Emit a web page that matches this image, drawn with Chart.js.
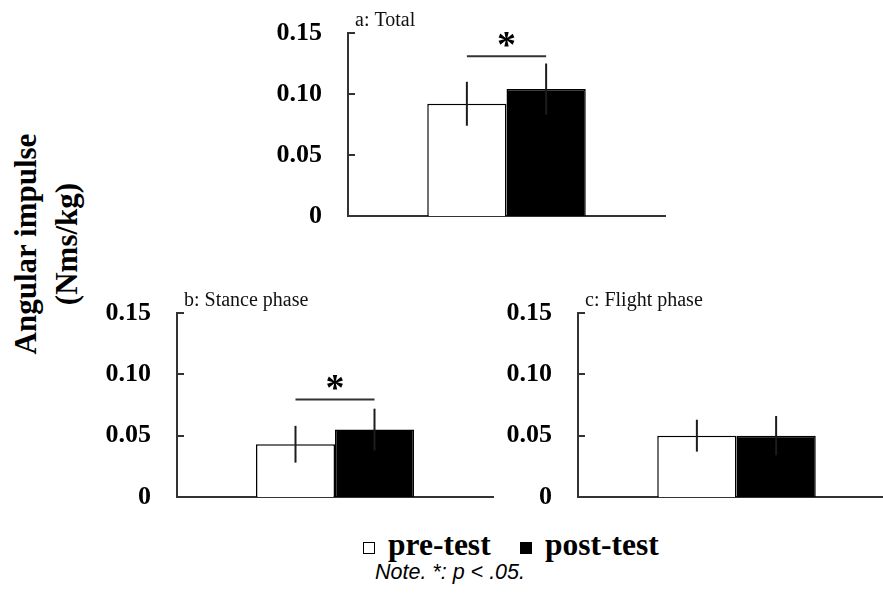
<!DOCTYPE html>
<html>
<head>
<meta charset="utf-8">
<script src="https://cdn.jsdelivr.net/npm/chart.js@4/dist/chart.umd.min.js"></script>
<style>
  html, body { margin: 0; padding: 0; background: #fff; }
  body { width: 883px; height: 596px; overflow: hidden; position: relative; }
  canvas { position: absolute; }
  .serif { font-family: "Liberation Serif", "Times New Roman", serif; }
  #ytitle {
    position: absolute; left: -105px; top: 204px; width: 300px; height: 80px;
    transform: rotate(-90deg); transform-origin: 50% 50%;
    text-align: center; font-size: 31px; font-weight: bold; line-height: 41px; color: #000;
    white-space: nowrap;
  }
  .leg { position: absolute; font-size: 31.5px; font-weight: bold; line-height: 30px; color: #000; white-space: nowrap; }
  .sq { position: absolute; width: 12px; height: 12px; box-sizing: border-box; border: 1.5px solid #000; }
  #note {
    position: absolute; left: 375px; top: 562px; font-family: "Liberation Sans", Arial, sans-serif;
    font-style: italic; font-size: 21.5px; line-height: 21px; color: #000; white-space: nowrap;
  }
</style>
</head>
<body>
<canvas id="chartA" width="420" height="240" style="left:258px;top:0px"></canvas>
<canvas id="chartB" width="420" height="230" style="left:87px;top:290px"></canvas>
<canvas id="chartC" width="420" height="230" style="left:488px;top:290px"></canvas>

<div id="ytitle" class="serif">Angular impulse<br>(Nms/kg)</div>

<div class="sq" style="left:363px;top:542px;background:#fff"></div>
<div class="leg serif" style="left:388px;top:530px">pre-test</div>
<div class="sq" style="left:520px;top:542px;background:#000"></div>
<div class="leg serif" style="left:545px;top:530px">post-test</div>
<div id="note">Note. *: p &lt; .05.</div>

<script>
// Angular impulse (Nms/kg), mean and SD per phase
const panelTitles = ['a: Total', 'b: Stance phase', 'c: Flight phase'];
const seriesNames = ['pre-test', 'post-test'];
const preTest  = [0.092, 0.043, 0.050];
const postTest = [0.104, 0.055, 0.050];
const preSD    = [0.018, 0.015, 0.013];
const postSD   = [0.021, 0.017, 0.016];
// height of the significance bracket (null = no significant difference)
const sigLevel = [0.131, 0.0795, null];
const sigMark  = '*';
const yTicks   = [0, 0.05, 0.10, 0.15];
const tickLabels = ['0', '0.05', '0.10', '0.15'];

const SERIF = '"Liberation Serif", "Times New Roman", serif';
const AXIS_COLOR = '#333';

// Error bars, inward tick marks, panel title and significance bracket
const decorations = {
  id: 'decorations',
  afterDraw(chart, args, opts) {
    const ctx = chart.ctx;
    const y = chart.scales.y;
    const area = chart.chartArea;
    const sds = opts.sds;

    ctx.save();
    // error bars
    ctx.strokeStyle = '#1c1c1c';
    ctx.lineWidth = 2;
    chart.data.datasets.forEach((ds, di) => {
      const meta = chart.getDatasetMeta(di);
      meta.data.forEach((bar, i) => {
        const v = ds.data[i];
        const sd = sds[di];
        ctx.beginPath();
        ctx.moveTo(bar.x, y.getPixelForValue(v + sd));
        ctx.lineTo(bar.x, y.getPixelForValue(v - sd));
        ctx.stroke();
      });
    });

    // tick marks pointing into the plot
    ctx.strokeStyle = AXIS_COLOR;
    ctx.lineWidth = 2;
    y.ticks.forEach(t => {
      if (t.value === 0) return;
      const py = Math.round(y.getPixelForValue(t.value));
      ctx.beginPath();
      ctx.moveTo(area.left - 1, py);
      ctx.lineTo(area.left + 7, py);
      ctx.stroke();
    });

    // panel title
    ctx.fillStyle = '#111';
    ctx.font = '20px ' + SERIF;
    ctx.textAlign = 'left';
    ctx.textBaseline = 'alphabetic';
    ctx.fillText(opts.title, area.left + 7, area.top - 7);

    // significance bracket
    if (opts.sig !== null) {
      const m0 = chart.getDatasetMeta(0).data[0];
      const m1 = chart.getDatasetMeta(1).data[0];
      const py = y.getPixelForValue(opts.sig);
      ctx.strokeStyle = '#333';
      ctx.lineWidth = 2;
      ctx.beginPath();
      ctx.moveTo(m0.x, py);
      ctx.lineTo(m1.x, py);
      ctx.stroke();
      ctx.fillStyle = '#000';
      ctx.font = 'bold 38px ' + SERIF;
      ctx.textAlign = 'center';
      ctx.fillText(sigMark, (m0.x + m1.x) / 2, py - 18 + 0.5 * 38);
    }
    ctx.restore();
  }
};

function makeChart(id, i, pad) {
  return new Chart(document.getElementById(id), {
    type: 'bar',
    data: {
      labels: [''],
      datasets: [
        { label: seriesNames[0], data: [preTest[i]], backgroundColor: '#fff',
          borderColor: '#000', borderWidth: 1.5 },
        { label: seriesNames[1], data: [postTest[i]], backgroundColor: '#000',
          borderColor: '#000', borderWidth: 1.5 }
      ]
    },
    options: {
      responsive: false,
      animation: false,
      events: [],
      layout: { padding: pad },
      categoryPercentage: 0.5,
      barPercentage: 1.0,
      plugins: {
        legend: { display: false },
        tooltip: { enabled: false },
        decorations: { sds: [preSD[i], postSD[i]], title: panelTitles[i], sig: sigLevel[i] }
      },
      scales: {
        x: {
          ticks: { display: false },
          grid: { display: false, drawTicks: false },
          border: { display: true, color: AXIS_COLOR, width: 2 },
          afterFit: s => { s.height = 0; s.paddingLeft = 0; s.paddingRight = 0; }
        },
        y: {
          min: 0, max: 0.15,
          afterBuildTicks: s => { s.ticks = yTicks.map(v => ({ value: v })); },
          ticks: {
            callback: (v) => tickLabels[yTicks.indexOf(v)],
            color: '#000',
            padding: 26,
            font: { family: SERIF, size: 26, weight: 'bold' }
          },
          grid: { display: false, drawTicks: false },
          border: { display: true, color: AXIS_COLOR, width: 2 },
          afterFit: s => { s.width = 90; s.paddingTop = 0; s.paddingBottom = 0; }
        }
      }
    },
    plugins: [decorations]
  });
}

makeChart('chartA', 0, { top: 33, right: 13, bottom: 24, left: 0 });
makeChart('chartB', 1, { top: 23, right: 14, bottom: 23, left: 0 });
makeChart('chartC', 2, { top: 23, right: 13, bottom: 23, left: 0 });
</script>
</body>
</html>
